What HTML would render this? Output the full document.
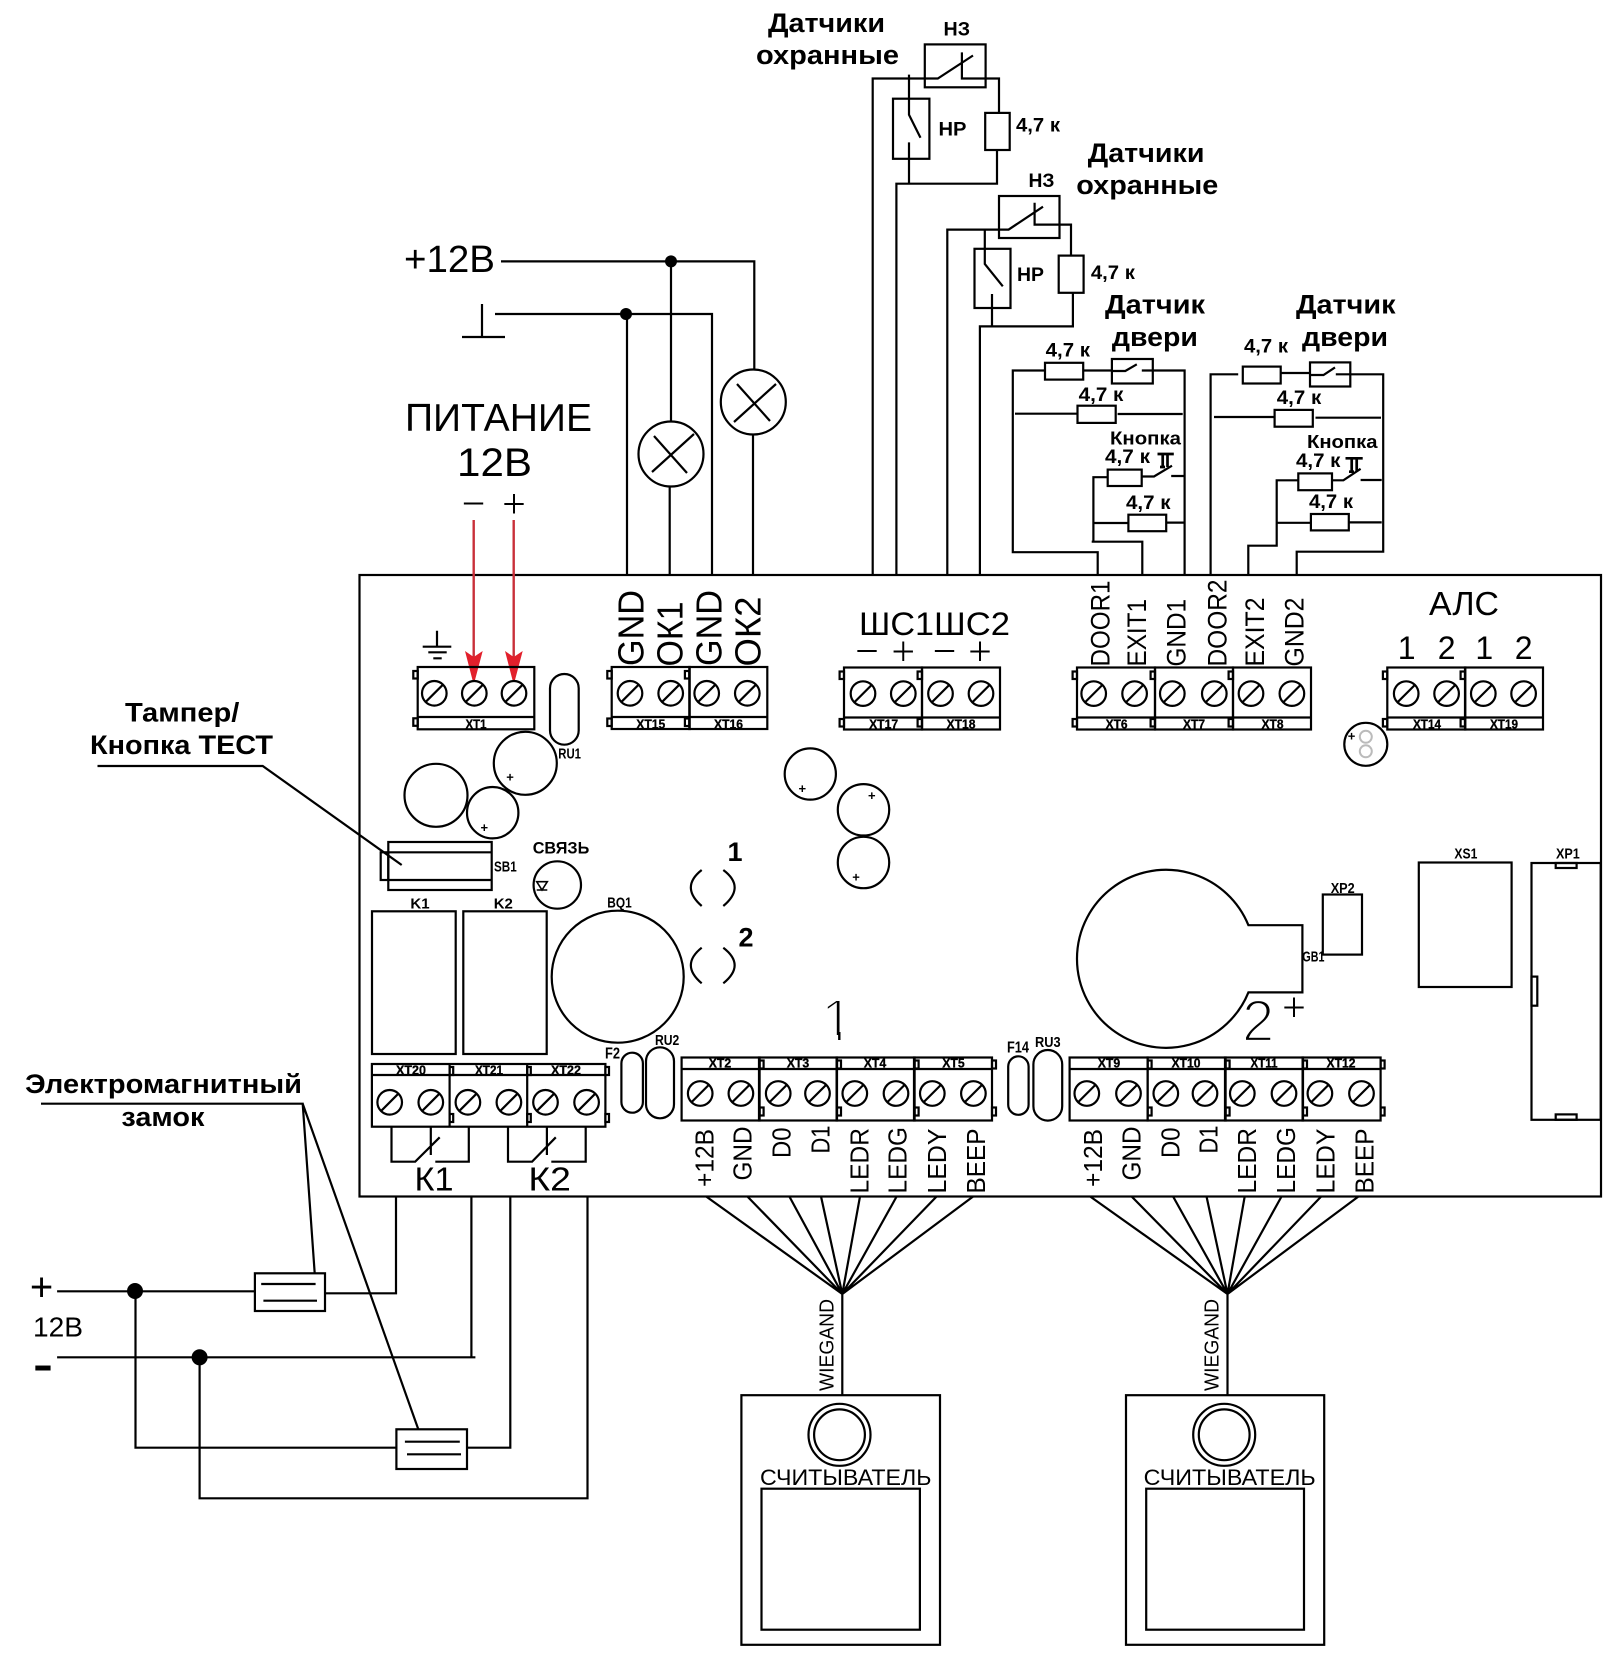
<!DOCTYPE html>
<html><head><meta charset="utf-8"><style>
html,body{margin:0;padding:0;background:#fff}
svg{display:block}
text{font-family:"Liberation Sans",sans-serif;fill:#000}
.b{font-weight:bold}
.w{fill:none;stroke:#000;stroke-width:2.2}
.t{font-size:13px;font-weight:bold;text-anchor:middle;stroke:#000;stroke-width:.3}
.th{stroke:#fff;stroke-width:1;font-size:42px;text-anchor:middle}
</style></head><body>
<svg width="1622" height="1661" viewBox="0 0 1622 1661" xmlns="http://www.w3.org/2000/svg">
<defs>
<g id="s" fill="#fff" stroke="#000" stroke-width="2.2"><circle r="12.3"/><path d="M-8.5 8.5L8.5-8.5"/></g>
<g id="tt" fill="none" stroke="#000" stroke-width="2.2"><rect width="78" height="62"/><path d="M0 50H78"/><rect x="-4.4" y="4" width="4.4" height="7.5"/><rect x="-4.4" y="51.5" width="4.4" height="7.5"/></g>
<g id="bt" fill="none" stroke="#000" stroke-width="2.2"><rect width="78" height="63"/><path d="M0 11.5H78"/><rect x="78" y="3" width="4" height="8"/><rect x="78" y="50" width="4" height="8"/></g>
<clipPath id="c1"><rect x="815" y="990" width="40" height="45"/></clipPath>
</defs>
<rect width="1622" height="1661" fill="#fff"/>

<!-- board -->
<rect x="359.5" y="575" width="1241.5" height="621.5" class="w"/>

<!-- power top -->
<text x="404" y="272" font-size="38" textLength="91" lengthAdjust="spacingAndGlyphs">+12В</text>
<g class="w">
<path d="M501 261.4H754.3V370M671 261.4V421M669.7 486V575M753 435V575"/>
<path d="M482 304V337M462 337H505M495 314H712V575M627 314V575"/>
<circle cx="671" cy="454" r="32.5"/><circle cx="753.3" cy="402" r="32.5"/>
<path d="M652 472L694 434M654 436L687 473M734 422L776 384M737 384L770 421"/>
</g>
<circle cx="671" cy="261.4" r="6"/><circle cx="626" cy="314" r="6"/>
<text x="405" y="431" font-size="39" textLength="187" lengthAdjust="spacingAndGlyphs">ПИТАНИЕ</text>
<text x="457" y="476" font-size="40" textLength="75" lengthAdjust="spacingAndGlyphs">12В</text>
<text x="473.5" y="517.3" class="th">−</text>
<text x="514" y="517.3" class="th">+</text>
<path d="M473.7 520V660M513.7 520V660" stroke="#c9303a" stroke-width="2.4" fill="none"/>
<path d="M465 651L473.7 657L482.7 651L475 680H472.5ZM505 651L513.7 657L522.7 651L515 680H512.5Z" fill="#e2202c"/>

<!-- sensor group 1 -->
<text x="768" y="32" font-size="27" class="b" textLength="117" lengthAdjust="spacingAndGlyphs">Датчики</text>
<text x="756" y="64" font-size="27" class="b" textLength="143" lengthAdjust="spacingAndGlyphs">охранные</text>
<text x="943.5" y="35.6" font-size="19" class="b" textLength="26.5" lengthAdjust="spacingAndGlyphs">НЗ</text>
<text x="938.5" y="135.4" font-size="19" class="b" textLength="28" lengthAdjust="spacingAndGlyphs">НР</text>
<text x="1016" y="131.5" font-size="19" class="b" textLength="44" lengthAdjust="spacingAndGlyphs">4,7 к</text>
<g class="w">
<rect x="924.8" y="44.4" width="60.8" height="42.9"/>
<path d="M872.7 575V78.5H937.8L973 55.5M961.9 52.4V78.5H999V112.9"/>
<rect x="985.2" y="112.9" width="24.5" height="37.1"/>
<path d="M997 150V183.7H896.4V575"/>
<rect x="893" y="98.7" width="36.4" height="60.1"/>
<path d="M909 74.6V114.8L920.5 137.8M909 142.4V183"/>
</g>

<!-- sensor group 2 -->
<text x="1087.8" y="161.8" font-size="27" class="b" textLength="116.7" lengthAdjust="spacingAndGlyphs">Датчики</text>
<text x="1076.3" y="194" font-size="27" class="b" textLength="142" lengthAdjust="spacingAndGlyphs">охранные</text>
<text x="1028.5" y="186.8" font-size="19" class="b" textLength="26" lengthAdjust="spacingAndGlyphs">НЗ</text>
<text x="1017" y="281" font-size="19" class="b" textLength="27" lengthAdjust="spacingAndGlyphs">НР</text>
<text x="1090.9" y="279" font-size="19" class="b" textLength="44" lengthAdjust="spacingAndGlyphs">4,7 к</text>
<g class="w">
<rect x="999" y="196" width="60.5" height="42"/>
<path d="M947.3 575V229.6H1008.6L1043 206.7M1034.6 202.8V224.6H1071V255.6"/>
<rect x="1058.7" y="255.6" width="24.9" height="37.2"/>
<path d="M1072.9 292.8V326.4H979.9V575"/>
<rect x="974.5" y="248.8" width="36" height="59.2"/>
<path d="M984.8 229.6V264L1002.8 286.3M992 294V326.4"/>
</g>

<!-- door group 1 -->
<text x="1105" y="313.4" font-size="27" class="b" textLength="100" lengthAdjust="spacingAndGlyphs">Датчик</text>
<text x="1111.9" y="345.8" font-size="27" class="b" textLength="86" lengthAdjust="spacingAndGlyphs">двери</text>
<text x="1045.7" y="356.5" font-size="19" class="b" textLength="44.3" lengthAdjust="spacingAndGlyphs">4,7 к</text>
<text x="1078.6" y="401" font-size="19" class="b" textLength="44.8" lengthAdjust="spacingAndGlyphs">4,7 к</text>
<text x="1110" y="444.7" font-size="18" class="b" textLength="71" lengthAdjust="spacingAndGlyphs">Кнопка</text>
<text x="1105" y="463" font-size="19" class="b" textLength="45" lengthAdjust="spacingAndGlyphs">4,7 к</text>
<text x="1126" y="509" font-size="19" class="b" textLength="44.5" lengthAdjust="spacingAndGlyphs">4,7 к</text>
<g class="w">
<path d="M1045 370.5H1012.8V552.2H1097.7V575"/>
<rect x="1045" y="362.8" width="38.2" height="16.8"/>
<path d="M1083.2 370.5H1111.9"/>
<rect x="1111.9" y="359" width="40.9" height="24.5"/>
<path d="M1111.9 371H1125.3L1136.8 364.3M1141.8 370.5H1184.6V575"/>
<path d="M1015 413.7H1077.5M1117.6 414H1182.7"/>
<rect x="1077.5" y="405.7" width="38.2" height="17.2"/>
<rect x="1107.7" y="469.6" width="34" height="16.4"/>
<path d="M1107.7 477.2H1093.4V541.7M1091.7 541.7H1142.3V575M1141.7 476.5H1154L1172 465.7M1171.2 476H1184.6"/>
<path d="M1157.5 454H1173.8M1162.7 454V467M1167.5 454V467M1160 467H1165" stroke-width="2.7"/>
<path d="M1093.4 523H1128.4M1166.2 522.6H1184.6"/>
<rect x="1128.4" y="514.7" width="37.8" height="16.5"/>
</g>

<!-- door group 2 -->
<text x="1296" y="313.4" font-size="27" class="b" textLength="99.5" lengthAdjust="spacingAndGlyphs">Датчик</text>
<text x="1302" y="345.8" font-size="27" class="b" textLength="86" lengthAdjust="spacingAndGlyphs">двери</text>
<text x="1244" y="352.3" font-size="19" class="b" textLength="44" lengthAdjust="spacingAndGlyphs">4,7 к</text>
<text x="1276.8" y="404" font-size="19" class="b" textLength="44.4" lengthAdjust="spacingAndGlyphs">4,7 к</text>
<text x="1307" y="448" font-size="18" class="b" textLength="70.5" lengthAdjust="spacingAndGlyphs">Кнопка</text>
<text x="1296" y="467" font-size="19" class="b" textLength="44.4" lengthAdjust="spacingAndGlyphs">4,7 к</text>
<text x="1309" y="508" font-size="19" class="b" textLength="44" lengthAdjust="spacingAndGlyphs">4,7 к</text>
<g class="w">
<path d="M1238.2 374.3H1210.6V575"/>
<rect x="1242.8" y="366.6" width="37.9" height="16.9"/>
<path d="M1280.7 373H1310"/>
<rect x="1310" y="362.4" width="40.3" height="24.1"/>
<path d="M1310 375H1323.5L1335 367.4M1335.8 374.3H1383.2V551.7H1296.7V575"/>
<path d="M1214 417H1274.6M1315.5 417.7H1381"/>
<rect x="1274.6" y="409.9" width="38.2" height="16.8"/>
<rect x="1298.3" y="473.4" width="33.7" height="16.8"/>
<path d="M1298.3 480.3H1276.7V545.7H1248.3V575M1332 480.3H1343.4L1360.6 468.8M1360.6 480H1381.7"/>
<path d="M1345.5 458.3H1362.7M1351.7 458.3V471.7M1356.7 458.3V471.7M1349 471.7H1354" stroke-width="2.7"/>
<path d="M1276.7 522.8H1310.9M1348.8 522.4H1381.7"/>
<rect x="1310.9" y="514" width="37.9" height="16.4"/>
</g>

<!-- Terminals top -->
<g class="w"><rect x="417.7" y="667" width="116.6" height="62.3"/><path d="M417.7 717H534.3"/><rect x="413.3" y="671" width="4.4" height="7.5"/><rect x="413.3" y="718.3" width="4.4" height="7.5"/>
<path d="M437 630.7V646.7M422.7 646.7H451.3M428.3 652.3H446.7M433.3 658.3H441.7"/></g>
<use href="#tt" x="611.7" y="667"/><use href="#tt" x="689.3" y="667"/>
<use href="#tt" x="844" y="667.5"/><use href="#tt" x="922" y="667.5"/>
<use href="#tt" x="1077" y="667.5"/><use href="#tt" x="1155" y="667.5"/><use href="#tt" x="1233" y="667.5"/>
<use href="#tt" x="1387.3" y="667.5"/><use href="#tt" x="1465" y="667.5"/>
<use href="#s" x="434.3" y="693.3"/><use href="#s" x="474.3" y="693.3"/><use href="#s" x="514" y="693.3"/>
<use href="#s" x="630" y="693.3"/><use href="#s" x="670.7" y="693.3"/><use href="#s" x="706.7" y="693.3"/><use href="#s" x="747.3" y="693.3"/>
<use href="#s" x="863" y="693.6"/><use href="#s" x="903.3" y="693.6"/><use href="#s" x="940.5" y="693.6"/><use href="#s" x="981" y="693.6"/>
<use href="#s" x="1093.7" y="693.6"/><use href="#s" x="1134.6" y="693.6"/><use href="#s" x="1172.3" y="693.6"/><use href="#s" x="1214.3" y="693.6"/><use href="#s" x="1251" y="693.6"/><use href="#s" x="1291.9" y="693.6"/>
<use href="#s" x="1406.2" y="693.6"/><use href="#s" x="1446.6" y="693.6"/><use href="#s" x="1483.3" y="693.6"/><use href="#s" x="1523.6" y="693.6"/>
<text class="t" x="476" y="728.3" textLength="21" lengthAdjust="spacingAndGlyphs">XT1</text>
<text class="t" x="650.8" y="728.3" textLength="29" lengthAdjust="spacingAndGlyphs">XT15</text>
<text class="t" x="728.5" y="728.3" textLength="29" lengthAdjust="spacingAndGlyphs">XT16</text>
<text class="t" x="883.6" y="728.3" textLength="29" lengthAdjust="spacingAndGlyphs">XT17</text>
<text class="t" x="961" y="728.3" textLength="29" lengthAdjust="spacingAndGlyphs">XT18</text>
<text class="t" x="1116.6" y="728.3" textLength="22" lengthAdjust="spacingAndGlyphs">XT6</text>
<text class="t" x="1194" y="728.3" textLength="22" lengthAdjust="spacingAndGlyphs">XT7</text>
<text class="t" x="1272.5" y="728.3" textLength="22" lengthAdjust="spacingAndGlyphs">XT8</text>
<text class="t" x="1427" y="728.3" textLength="28" lengthAdjust="spacingAndGlyphs">XT14</text>
<text class="t" x="1504" y="728.3" textLength="28" lengthAdjust="spacingAndGlyphs">XT19</text>

<!-- rotated top labels -->
<text transform="translate(643.3,666) rotate(-90)" font-size="36" textLength="76" lengthAdjust="spacingAndGlyphs">GND</text>
<text transform="translate(682.7,666.5) rotate(-90)" font-size="36" textLength="65" lengthAdjust="spacingAndGlyphs">ОК1</text>
<text transform="translate(721.7,666) rotate(-90)" font-size="36" textLength="76" lengthAdjust="spacingAndGlyphs">GND</text>
<text transform="translate(760.7,666.5) rotate(-90)" font-size="36" textLength="70" lengthAdjust="spacingAndGlyphs">ОК2</text>
<text transform="translate(1109.4,666.5) rotate(-90)" font-size="27" textLength="86" lengthAdjust="spacingAndGlyphs">DOOR1</text>
<text transform="translate(1146,666.5) rotate(-90)" font-size="27" textLength="67.5" lengthAdjust="spacingAndGlyphs">EXIT1</text>
<text transform="translate(1185.4,666.5) rotate(-90)" font-size="27" textLength="67.5" lengthAdjust="spacingAndGlyphs">GND1</text>
<text transform="translate(1226.3,666.5) rotate(-90)" font-size="27" textLength="87" lengthAdjust="spacingAndGlyphs">DOOR2</text>
<text transform="translate(1264,666.5) rotate(-90)" font-size="27" textLength="69" lengthAdjust="spacingAndGlyphs">EXIT2</text>
<text transform="translate(1303.4,666.5) rotate(-90)" font-size="27" textLength="69" lengthAdjust="spacingAndGlyphs">GND2</text>

<text x="859" y="635" font-size="32.5" textLength="75" lengthAdjust="spacingAndGlyphs">ШС1</text>
<text x="934" y="635" font-size="32.5" textLength="76" lengthAdjust="spacingAndGlyphs">ШС2</text>
<text class="th" x="867" y="665">−</text><text class="th" x="903.3" y="665">+</text><text class="th" x="944.5" y="665">−</text><text class="th" x="980" y="665">+</text>
<text x="1429" y="614.8" font-size="33" textLength="70" lengthAdjust="spacingAndGlyphs">АЛС</text>
<g font-size="32" text-anchor="middle">
<text x="1406.7" y="659">1</text><text x="1446.6" y="659">2</text><text x="1484.3" y="659">1</text><text x="1523.6" y="659">2</text>
</g>

<!-- components -->
<g class="w">
<rect x="550" y="674" width="28.7" height="70.7" rx="14.3"/>
<circle cx="525.3" cy="763.3" r="31.5"/><circle cx="436" cy="795.3" r="31.5"/><circle cx="492.7" cy="812.7" r="25.7"/>
<circle cx="810.3" cy="774" r="25.6"/><circle cx="863.5" cy="809.8" r="25.7"/><circle cx="863.5" cy="862.5" r="25.7"/>
<circle cx="1365.8" cy="744.3" r="21.5"/>
<rect x="388.3" y="842" width="103.4" height="48"/><path d="M388.3 852.3H491.7M388.3 880H491.7"/><rect x="380.7" y="852.3" width="7.6" height="27.7"/>
<path d="M97.5 766H262.7L401.7 865"/>
<circle cx="557.3" cy="885" r="23.7"/>
<path d="M536.7 881.7H547.3L542 890ZM536.7 890H547.3" stroke-width="1.6"/>
<path d="M701.7 870Q680 887 701.7 906M723.3 870Q746 887 723.3 906M701.7 947.7Q680 965 701.7 983.3M723.3 947.7Q746 965 723.3 983.3"/>
<rect x="372" y="911.3" width="83.7" height="142.7"/><rect x="463.3" y="911.3" width="83.4" height="142.7"/>
<circle cx="617.7" cy="976.7" r="66"/>
<rect x="621.4" y="1052.7" width="21.5" height="60" rx="10.7"/><rect x="646" y="1047.3" width="28" height="71" rx="14"/>
<rect x="1008.2" y="1056.3" width="20.4" height="58.5" rx="10.2"/><rect x="1033.4" y="1050" width="28.8" height="70.6" rx="14.4"/>
<path d="M1248.4 925.2A89 89 0 1 0 1248.4 992.4H1302.4V925.2Z"/>
<rect x="1322.8" y="894.5" width="39.2" height="60.1"/>
<rect x="1418.8" y="862.5" width="92.8" height="124.5"/>
<rect x="1531.5" y="863" width="69.2" height="256.8"/>
<rect x="1555.7" y="863" width="20.9" height="5"/><rect x="1555.7" y="1114.4" width="20.9" height="5.4"/><rect x="1531.5" y="976.6" width="5.8" height="29.1"/>
</g>
<circle cx="1365.8" cy="736.8" r="6" fill="none" stroke="#bbb" stroke-width="2"/><circle cx="1365.8" cy="751.3" r="6" fill="none" stroke="#bbb" stroke-width="2"/>
<g font-size="13" class="b" text-anchor="middle">
<text x="510" y="781.5">+</text><text x="484.3" y="831.8">+</text><text x="802.3" y="792.8">+</text><text x="871.8" y="799.8">+</text><text x="856" y="881.5">+</text><text x="1351.6" y="740.5">+</text>
</g>
<g class="b">
<text x="558.3" y="758.3" font-size="15" textLength="22.7" lengthAdjust="spacingAndGlyphs">RU1</text>
<text x="494" y="871.7" font-size="15" textLength="22.7" lengthAdjust="spacingAndGlyphs">SB1</text>
<text x="532.7" y="853.3" font-size="17" textLength="56.6" lengthAdjust="spacingAndGlyphs">СВЯЗЬ</text>
<text x="735" y="861" font-size="27" text-anchor="middle">1</text>
<text x="746" y="946.7" font-size="27" text-anchor="middle">2</text>
<text x="420" y="908.3" font-size="15" text-anchor="middle">K1</text>
<text x="503.3" y="908.3" font-size="15" text-anchor="middle">K2</text>
<text x="607.3" y="907.7" font-size="15" textLength="24.4" lengthAdjust="spacingAndGlyphs">BQ1</text>
<text x="605" y="1058.3" font-size="16" textLength="15" lengthAdjust="spacingAndGlyphs">F2</text>
<text x="655" y="1045" font-size="15" textLength="24.3" lengthAdjust="spacingAndGlyphs">RU2</text>
<text x="1007" y="1052.6" font-size="16" textLength="22" lengthAdjust="spacingAndGlyphs">F14</text>
<text x="1035" y="1047" font-size="15" textLength="25.6" lengthAdjust="spacingAndGlyphs">RU3</text>
<text x="1302.4" y="961.3" font-size="15" textLength="22" lengthAdjust="spacingAndGlyphs">GB1</text>
<text x="1330.7" y="892.8" font-size="15" textLength="24" lengthAdjust="spacingAndGlyphs">XP2</text>
<text x="1454.4" y="858.4" font-size="15" textLength="23" lengthAdjust="spacingAndGlyphs">XS1</text>
<text x="1556" y="858.4" font-size="15" textLength="23.8" lengthAdjust="spacingAndGlyphs">XP1</text>
<text x="125" y="721.5" font-size="27" textLength="114.4" lengthAdjust="spacingAndGlyphs">Тампер/</text>
<text x="90" y="754" font-size="27" textLength="183" lengthAdjust="spacingAndGlyphs">Кнопка ТЕСТ</text>
</g>
<text x="821" y="1040" font-size="58" clip-path="url(#c1)" stroke="#fff" stroke-width="2.4">1</text>
<path d="M839.3 1032V1040" stroke="#000" stroke-width="2.4"/>
<text x="1242" y="1041" font-size="58" stroke="#fff" stroke-width="2.2">2</text>
<text class="th" x="1294" y="1020.8">+</text>

<!-- Relay terminals -->
<g class="w">
<rect x="371.9" y="1064" width="233.5" height="62.7"/><path d="M371.9 1075H605.4M449.6 1064V1126.7M527.2 1064V1126.7"/>
<rect x="449.6" y="1067" width="3.6" height="8"/><rect x="449.6" y="1114" width="3.6" height="8"/><rect x="527.2" y="1067" width="3.6" height="8"/><rect x="527.2" y="1114" width="3.6" height="8"/><rect x="605.4" y="1067" width="3.6" height="8"/><rect x="605.4" y="1114" width="3.6" height="8"/>
<path d="M391.5 1126.7V1161.7H415.2L439.7 1137.3M430.8 1126.7V1155M435.3 1161.7H468.8V1126.7"/>
<path d="M508 1126.7V1161.7H532.1L555.8 1137.3M546.9 1126.7V1155M551.3 1161.7H585.7V1126.7"/>
</g>
<use href="#s" x="389.7" y="1102.3"/><use href="#s" x="430.8" y="1102.3"/><use href="#s" x="467.9" y="1102.3"/><use href="#s" x="508.9" y="1102.3"/><use href="#s" x="545.5" y="1102.3"/><use href="#s" x="586.6" y="1102.3"/>
<text class="t" x="411" y="1074.5" textLength="30" lengthAdjust="spacingAndGlyphs">XT20</text>
<text class="t" x="489" y="1074.5" textLength="28" lengthAdjust="spacingAndGlyphs">XT21</text>
<text class="t" x="566" y="1074.5" textLength="30" lengthAdjust="spacingAndGlyphs">XT22</text>
<text x="414.5" y="1190.7" font-size="33" textLength="39" lengthAdjust="spacingAndGlyphs">К1</text>
<text x="528.4" y="1190.7" font-size="33" textLength="42.5" lengthAdjust="spacingAndGlyphs">К2</text>

<!-- Bottom terminals -->
<use href="#bt" x="681.6" y="1057.5"/><use href="#bt" x="759" y="1057.5"/><use href="#bt" x="836.6" y="1057.5"/><use href="#bt" x="914" y="1057.5"/>
<use href="#bt" x="1069.6" y="1057.5"/><use href="#bt" x="1147.6" y="1057.5"/><use href="#bt" x="1225" y="1057.5"/><use href="#bt" x="1302.6" y="1057.5"/>
<use href="#s" x="700.2" y="1093.5"/><use href="#s" x="740.9" y="1093.5"/><use href="#s" x="778.2" y="1093.5"/><use href="#s" x="817.5" y="1093.5"/><use href="#s" x="854.8" y="1093.5"/><use href="#s" x="896" y="1093.5"/><use href="#s" x="932.3" y="1093.5"/><use href="#s" x="973.4" y="1093.5"/>
<use href="#s" x="1086.8" y="1093.5"/><use href="#s" x="1128.5" y="1093.5"/><use href="#s" x="1165.8" y="1093.5"/><use href="#s" x="1205" y="1093.5"/><use href="#s" x="1242.3" y="1093.5"/><use href="#s" x="1284" y="1093.5"/><use href="#s" x="1319.9" y="1093.5"/><use href="#s" x="1361.5" y="1093.5"/>
<text class="t" x="720" y="1067.3" textLength="22.5" lengthAdjust="spacingAndGlyphs">XT2</text>
<text class="t" x="798" y="1067.3" textLength="22.5" lengthAdjust="spacingAndGlyphs">XT3</text>
<text class="t" x="875" y="1067.3" textLength="22.5" lengthAdjust="spacingAndGlyphs">XT4</text>
<text class="t" x="953.5" y="1067.3" textLength="22.5" lengthAdjust="spacingAndGlyphs">XT5</text>
<text class="t" x="1109" y="1067.3" textLength="22.5" lengthAdjust="spacingAndGlyphs">XT9</text>
<text class="t" x="1186" y="1067.3" textLength="29" lengthAdjust="spacingAndGlyphs">XT10</text>
<text class="t" x="1264" y="1067.3" textLength="27" lengthAdjust="spacingAndGlyphs">XT11</text>
<text class="t" x="1341" y="1067.3" textLength="29" lengthAdjust="spacingAndGlyphs">XT12</text>

<!-- bottom rotated labels -->
<text transform="translate(713.3,1187) rotate(-90)" font-size="26" textLength="58" lengthAdjust="spacingAndGlyphs">+12В</text>
<text transform="translate(751.7,1180.5) rotate(-90)" font-size="26" textLength="54" lengthAdjust="spacingAndGlyphs">GND</text>
<text transform="translate(790.7,1158) rotate(-90)" font-size="26" textLength="30.5" lengthAdjust="spacingAndGlyphs">D0</text>
<text transform="translate(829.3,1153.5) rotate(-90)" font-size="26" textLength="28" lengthAdjust="spacingAndGlyphs">D1</text>
<text transform="translate(868.3,1193.5) rotate(-90)" font-size="26" textLength="65.5" lengthAdjust="spacingAndGlyphs">LEDR</text>
<text transform="translate(906.7,1193.5) rotate(-90)" font-size="26" textLength="66.5" lengthAdjust="spacingAndGlyphs">LEDG</text>
<text transform="translate(946,1193.5) rotate(-90)" font-size="26" textLength="65" lengthAdjust="spacingAndGlyphs">LEDY</text>
<text transform="translate(985,1193.5) rotate(-90)" font-size="26" textLength="65" lengthAdjust="spacingAndGlyphs">BEEP</text>
<text transform="translate(1102.2,1187) rotate(-90)" font-size="26" textLength="58" lengthAdjust="spacingAndGlyphs">+12В</text>
<text transform="translate(1140.4,1180.5) rotate(-90)" font-size="26" textLength="54" lengthAdjust="spacingAndGlyphs">GND</text>
<text transform="translate(1179.3,1158) rotate(-90)" font-size="26" textLength="30.5" lengthAdjust="spacingAndGlyphs">D0</text>
<text transform="translate(1217.4,1153.5) rotate(-90)" font-size="26" textLength="28" lengthAdjust="spacingAndGlyphs">D1</text>
<text transform="translate(1256.2,1193.5) rotate(-90)" font-size="26" textLength="65.5" lengthAdjust="spacingAndGlyphs">LEDR</text>
<text transform="translate(1295,1193.5) rotate(-90)" font-size="26" textLength="66.5" lengthAdjust="spacingAndGlyphs">LEDG</text>
<text transform="translate(1334.7,1193.5) rotate(-90)" font-size="26" textLength="65" lengthAdjust="spacingAndGlyphs">LEDY</text>
<text transform="translate(1373.4,1193.5) rotate(-90)" font-size="26" textLength="65" lengthAdjust="spacingAndGlyphs">BEEP</text>

<!-- Fans -->
<g class="w">
<path d="M706 1196.4L842.3 1294M747.3 1196.4L842.3 1294M789.3 1196.4L842.3 1294M821 1196.4L842.3 1294M860 1196.4L842.3 1294M896.7 1196.4L842.3 1294M936.7 1196.4L842.3 1294M973.3 1196.4L842.3 1294M842.3 1294V1395"/>
<path d="M1090 1196.4L1227.5 1294M1131.5 1196.4L1227.5 1294M1173 1196.4L1227.5 1294M1206.5 1196.4L1227.5 1294M1244.7 1196.4L1227.5 1294M1281.6 1196.4L1227.5 1294M1321.3 1196.4L1227.5 1294M1358.6 1196.4L1227.5 1294M1227.5 1294V1395"/>
<rect x="741.4" y="1395.2" width="198.6" height="249.6"/><rect x="761.5" y="1488.7" width="158.4" height="141"/>
<circle cx="839.5" cy="1434.8" r="31"/><circle cx="839.5" cy="1434.8" r="25.4"/>
<rect x="1126" y="1395.2" width="198.2" height="249.6"/><rect x="1146.2" y="1488.7" width="157.8" height="141"/>
<circle cx="1224.2" cy="1434.8" r="31"/><circle cx="1224.2" cy="1434.8" r="25.4"/>
</g>
<text transform="translate(833.3,1391) rotate(-90)" font-size="20.5" textLength="92" lengthAdjust="spacingAndGlyphs">WIEGAND</text>
<text transform="translate(1218.4,1391) rotate(-90)" font-size="20.5" textLength="92" lengthAdjust="spacingAndGlyphs">WIEGAND</text>
<text x="760" y="1484.8" font-size="22" textLength="171.5" lengthAdjust="spacingAndGlyphs">СЧИТЫВАТЕЛЬ</text>
<text x="1143.7" y="1484.8" font-size="22" textLength="172" lengthAdjust="spacingAndGlyphs">СЧИТЫВАТЕЛЬ</text>

<!-- Lock section -->
<text x="25" y="1093" font-size="27" class="b" textLength="277" lengthAdjust="spacingAndGlyphs">Электромагнитный</text>
<text x="121.4" y="1126" font-size="27" class="b" textLength="83" lengthAdjust="spacingAndGlyphs">замок</text>
<g class="w">
<path d="M41 1103.7H302.7L314.7 1273.3M302.7 1103.7L418.3 1429.3"/>
<path d="M396 1197V1293.3H325"/>
<rect x="254.9" y="1273.3" width="70.1" height="37.7"/>
<path d="M261.2 1284H315.6M263.4 1300.7H317"/>
<path d="M57.1 1291.3H254.9M135.5 1291.3V1447.7H396.4"/>
<rect x="396.4" y="1429.3" width="70.6" height="39.7"/>
<path d="M404.9 1441.7H459.8M407 1454.3H461"/>
<path d="M467 1447.7H510.3V1197"/>
<path d="M57.1 1357.3H475.4M471.4 1197V1357.3"/>
<path d="M199.6 1357.3V1498.3H587.5V1197"/>
</g>
<circle cx="135" cy="1291" r="8"/><circle cx="199.6" cy="1357.3" r="8"/>
<text x="41.5" y="1300.5" font-size="40" text-anchor="middle">+</text>
<text x="33" y="1336.7" font-size="28" textLength="50" lengthAdjust="spacingAndGlyphs">12В</text>
<text x="43" y="1379" font-size="42" class="b" text-anchor="middle" textLength="20" lengthAdjust="spacingAndGlyphs">-</text>
</svg>
</body></html>
